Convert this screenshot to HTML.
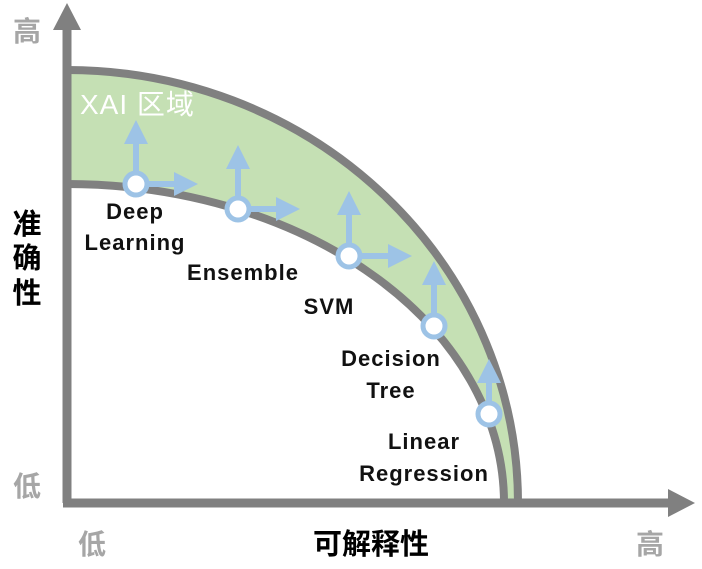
<!DOCTYPE html>
<html><head><meta charset="utf-8"><style>
body{margin:0;background:#fff;width:702px;height:564px;overflow:hidden}
text{font-family:"Liberation Sans","Noto Sans CJK SC",sans-serif}
</style></head><body>
<svg width="702" height="564" viewBox="0 0 702 564">
<defs>
<marker id="ab" markerWidth="4" markerHeight="4" refX="1" refY="2" orient="auto" markerUnits="strokeWidth"><path d="M0,0 L4,2 L0,4Z" fill="#9dc3e6"/></marker>
</defs>
<path d="M67,70 A451,433 0 0 1 518,503 L504,503 A437,319 0 0 0 67,184 Z" fill="#c5e0b4"/>
<path d="M67,70 A451,433 0 0 1 518,503" fill="none" stroke="#808080" stroke-width="8"/>
<path d="M67,184 A437,319 0 0 1 504,503" fill="none" stroke="#808080" stroke-width="8"/>
<line x1="67" y1="503" x2="67" y2="28" stroke="#808080" stroke-width="9"/>
<path d="M53,30 L67,3 L81,30Z" fill="#808080"/>
<line x1="63" y1="503" x2="670" y2="503" stroke="#808080" stroke-width="9"/>
<path d="M668,489 L695,503 L668,517Z" fill="#808080"/>
<g stroke="#9dc3e6" stroke-width="6" fill="none">
<line x1="136" y1="184" x2="136" y2="138" marker-end="url(#ab)"/>
<line x1="136" y1="184" x2="180" y2="184" marker-end="url(#ab)"/>
<line x1="238" y1="209" x2="238" y2="163" marker-end="url(#ab)"/>
<line x1="238" y1="209" x2="282" y2="209" marker-end="url(#ab)"/>
<line x1="349" y1="256" x2="349" y2="209" marker-end="url(#ab)"/>
<line x1="349" y1="256" x2="394" y2="256" marker-end="url(#ab)"/>
<line x1="434" y1="326" x2="434" y2="279" marker-end="url(#ab)"/>
<line x1="489" y1="414" x2="489" y2="377" marker-end="url(#ab)"/>
</g>
<g stroke="#9dc3e6" stroke-width="5" fill="#fff">
<circle cx="136" cy="184" r="11"/><circle cx="238" cy="209" r="11"/><circle cx="349" cy="256" r="11"/><circle cx="434" cy="326" r="11"/><circle cx="489" cy="414" r="11"/>
</g>
<text x="80" y="114" fill="#fff" font-size="28" letter-spacing="1">XAI 区域</text>
<g font-size="22" font-weight="bold" fill="#111" text-anchor="middle" letter-spacing="1">
<text x="135" y="219">Deep</text><text x="135" y="250">Learning</text>
<text x="243" y="280">Ensemble</text>
<text x="329" y="314">SVM</text>
<text x="391" y="366">Decision</text><text x="391" y="398">Tree</text>
<text x="424" y="449">Linear</text><text x="424" y="481">Regression</text>
</g>
<g font-size="29" font-weight="bold" fill="#000" text-anchor="middle">
<text x="27" y="234">准</text><text x="27" y="268">确</text><text x="27" y="303">性</text>
<text x="371" y="554">可解释性</text>
</g>
<g font-size="28" font-weight="bold" fill="#a6a6a6" text-anchor="middle">
<text x="27" y="41">高</text><text x="27" y="496">低</text>
<text x="92" y="554">低</text><text x="650" y="554">高</text>
</g>
</svg>
</body></html>
